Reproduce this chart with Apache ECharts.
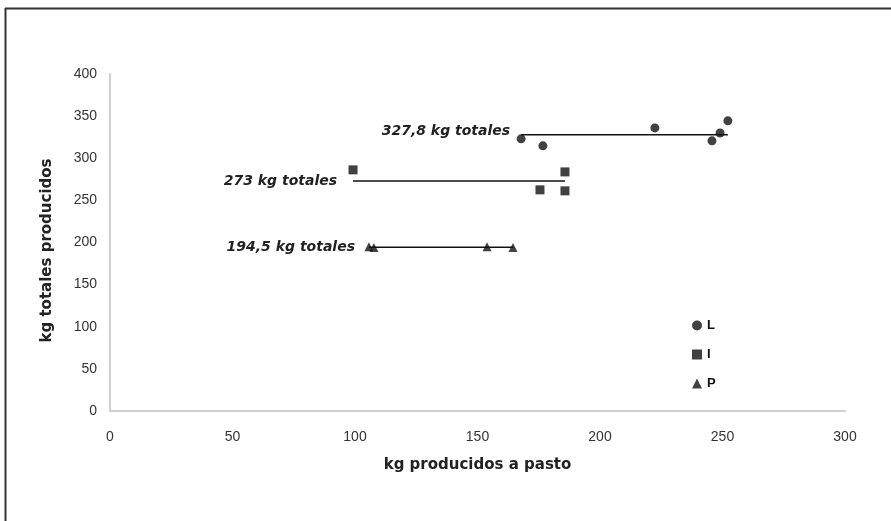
<!DOCTYPE html>
<html>
<head>
<meta charset="utf-8">
<script src="https://cdn.jsdelivr.net/npm/echarts@6/dist/echarts.min.js"></script>
<style>
html,body{margin:0;padding:0;background:#fff;}
#c{width:891px;height:521px;}
</style>
</head>
<body>
<div id="c"></div>
<script>
// Data
const seriesNames = ['L', 'I', 'P'];
const pointsL = [[167.8, 323], [176.7, 314.7], [222.4, 336], [245.7, 320.7], [249.0, 330], [252.2, 344.4]];
const pointsI = [[99.2, 286.2], [185.7, 283.8], [175.5, 262.5], [185.7, 261.3]];
const pointsP = [[105.7, 195], [107.7, 194], [153.9, 195], [164.5, 194]];
const meanL = 327.8, meanI = 273, meanP = 194.5;
const labelL = '327,8 kg totales', labelI = '273 kg totales', labelP = '194,5 kg totales';
const xTicks = [0, 50, 100, 150, 200, 250, 300];
const yTicks = [0, 50, 100, 150, 200, 250, 300, 350, 400];

function xs(pts) { return pts.map(p => p[0]); }
function meanLine(pts, mean, label, dist, dy) {
  const mn = Math.min(...xs(pts)), mx = Math.max(...xs(pts));
  return [
    { value: [mn, mean], label: { show: true, formatter: label, position: 'left', distance: dist, offset: [0, dy] } },
    { value: [mx, mean] }
  ];
}

const chart = echarts.init(document.getElementById('c'), null, { renderer: 'canvas' });
const lineStyle = { color: '#111', width: 1.5 };
const lblStyle = { show: false, fontFamily: 'DejaVu Sans', fontSize: 14, fontWeight: 'bold', fontStyle: 'italic', color: '#222' };

function meanSeries(name, pts, mean, label, dist, dy) {
  return {
    name, type: 'line', data: meanLine(pts, mean, label, dist, dy),
    symbol: 'circle', symbolSize: 2, showSymbol: true,
    itemStyle: { color: 'rgba(0,0,0,0)' },
    lineStyle, label: lblStyle, z: 1, silent: true
  };
}

chart.setOption({
  animation: false,
  backgroundColor: '#fff',
  graphic: [
    { type: 'line', shape: { x1: 5, y1: 8.5, x2: 891, y2: 8.5 }, style: { stroke: '#333', lineWidth: 2 } },
    { type: 'line', shape: { x1: 5.5, y1: 8, x2: 5.5, y2: 521 }, style: { stroke: '#333', lineWidth: 2 } }
  ],
  grid: { left: 110, right: 46, top: 74, bottom: 110, containLabel: false },
  legend: {
    data: seriesNames,
    orient: 'vertical',
    left: 687,
    top: 314,
    itemWidth: 10,
    itemHeight: 10,
    itemGap: 16,
    textStyle: { fontFamily: 'Liberation Sans, Arial', fontSize: 13, fontWeight: 'bold', color: '#111' },
    selectedMode: false
  },
  xAxis: {
    type: 'value', min: 0, max: 300, interval: 50,
    name: 'kg producidos a pasto', nameLocation: 'middle', nameGap: 47,
    nameTextStyle: { fontFamily: 'DejaVu Sans', fontSize: 15, fontWeight: 'bold', color: '#222' },
    axisLine: { show: true, lineStyle: { color: '#cfcfcf', width: 2 } },
    axisTick: { show: false },
    splitLine: { show: false },
    axisLabel: { margin: 19, fontFamily: 'Liberation Sans, Arial', fontSize: 14, color: '#333',
      formatter: v => xTicks.includes(v) ? String(v) : '' }
  },
  yAxis: {
    type: 'value', min: 0, max: 400, interval: 50,
    name: 'kg totales producidos', nameLocation: 'middle', nameGap: 55, nameRotate: 90,
    nameTextStyle: { fontFamily: 'DejaVu Sans', fontSize: 15, fontWeight: 'bold', color: '#222', padding: [0, 16, 0, 0] },
    axisLine: { show: true, lineStyle: { color: '#cfcfcf', width: 2 } },
    axisTick: { show: false },
    splitLine: { show: false },
    axisLabel: { margin: 13, fontFamily: 'Liberation Sans, Arial', fontSize: 14, color: '#333',
      formatter: v => yTicks.includes(v) ? String(v) : '' }
  },
  series: [
    meanSeries('Lmean', pointsL, meanL, labelL, 10, -3),
    meanSeries('Imean', pointsI, meanI, labelI, 15, 0),
    meanSeries('Pmean', pointsP, meanP, labelP, 13, 0),
    { name: 'L', type: 'scatter', data: pointsL, symbol: 'circle', symbolSize: 9, itemStyle: { color: '#111' }, z: 3 },
    { name: 'I', type: 'scatter', data: pointsI, symbol: 'rect', symbolSize: 9, itemStyle: { color: '#111' }, z: 3 },
    { name: 'P', type: 'scatter', data: pointsP, symbol: 'triangle', symbolSize: 9, itemStyle: { color: '#111' }, z: 3 }
  ]
});
</script>
</body>
</html>
